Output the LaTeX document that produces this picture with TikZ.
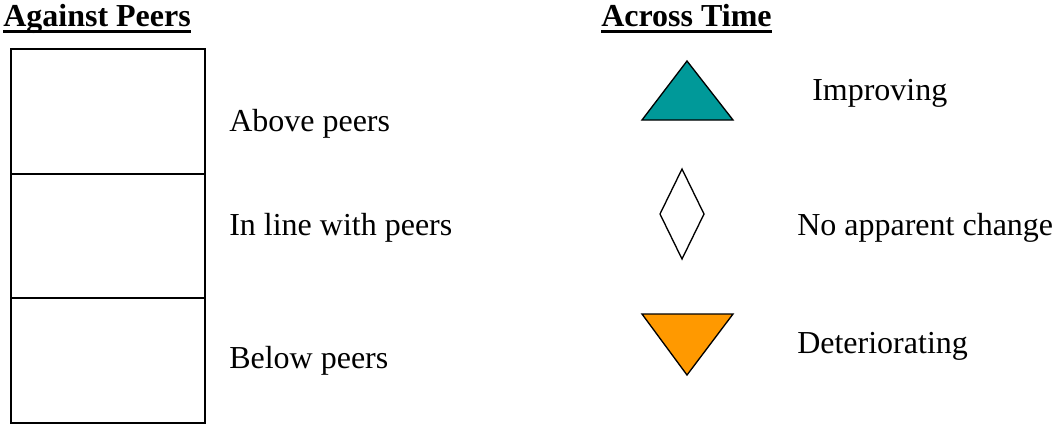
\documentclass[tikz,border=0pt]{standalone}
\usepackage{fontspec}
\setmainfont{Liberation Serif}
\usepackage{tikz}
\definecolor{improvecol}{HTML}{009999}
\definecolor{declinecol}{HTML}{FF9900}
\tikzset{
    label/.style={
        inner sep=0,
        anchor=base west,
        font=\fontsize{24}{29}\selectfont,
    },
    heading/.style={
        label,
        font=\fontsize{24}{29}\selectfont\bfseries,
    },
    ul/.style={
        line width=2.2pt,
    },
    cell/.style={
        draw,
        line width=1.3pt,
        inner sep=0,
        minimum width=145.5pt,
        minimum height=93.5pt,
    },
    marker/.style={
        draw,
        line width=1pt,
        line join=miter,
    },
}

\begin{document}
\begin{tikzpicture}[x=0.75pt,y=-0.75pt]
            \useasboundingbox (0,0) rectangle (1053,426);

            \node[heading] at (3, 26)   (peers)  {Against Peers};
            \node[heading] at (601, 26) (time)   {Across Time};
            \draw[ul] ([yshift=-4.2pt]peers.base west) -- ([yshift=-4.2pt]peers.base east);
            \draw[ul] ([yshift=-4.2pt]time.base west) -- ([yshift=-4.2pt]time.base east);

            \node[cell] at (108, 111.5) (abovebox)  {};
            \node[cell] at (108, 236)   (inlinebox) {};
            \node[cell] at (108, 360.5) (belowbox)  {};

            \node[label] at (229, 131) (above)  {Above peers};
            \node[label] at (229, 235) (inline) {In line with peers};
            \node[label] at (229, 368) (below)  {Below peers};

            \filldraw[marker, fill=improvecol] (687, 61) -- (733, 120) -- (642, 120) -- cycle;
            \draw[marker] (682, 169) -- (704, 214) -- (682, 259) -- (660, 214) -- cycle;
            \filldraw[marker, fill=declinecol] (642, 314) -- (733, 314) -- (687, 375) -- cycle;

            \node[label] at (812, 100) (improving)    {Improving};
            \node[label] at (797, 235) (nochange)     {No apparent change};
            \node[label] at (797, 353) (deteriorating) {Deteriorating};
        \end{tikzpicture}
\end{document}
